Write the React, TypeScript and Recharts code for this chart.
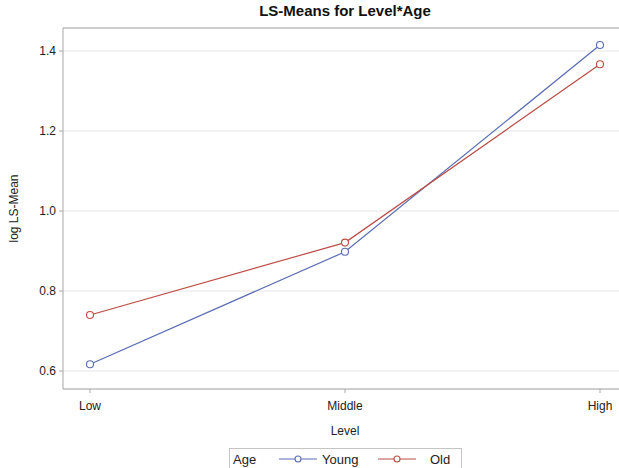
import React from "react";
import { LineChart, Line, XAxis, YAxis, CartesianGrid, ReferenceLine } from "recharts";

const levels = ["Low", "Middle", "High"];
const youngValues = [0.617, 0.898, 1.415];
const oldValues = [0.74, 0.921, 1.367];
const yTicks = [0.6, 0.8, 1.0, 1.2, 1.4];
const seriesNames = ["Young", "Old"];
const legendTitle = "Age";
const chartTitle = "LS-Means for Level*Age";
const xTitle = "Level";
const yTitle = "log LS-Mean";

const data = levels.map((lvl, i) => ({ level: lvl, Young: youngValues[i], Old: oldValues[i] }));

const BLUE = "#5a6db3";
const RED = "#bb4d45";
const AXIS = "#a8a8a8";
const FONT = "'Liberation Sans', Arial, sans-serif";
const Y_MIN = 0.555;
const Y_MAX = 1.4575;

const YLabel = (props: any) => {
  const vb = props.viewBox || { x: 0, y: 0, width: 0, height: 0 };
  const x = vb.x + 14;
  const y = vb.y + vb.height / 2;
  return (
    <text x={x} y={y} transform={`rotate(-90, ${x}, ${y})`} textAnchor="middle" dominantBaseline="central" fontSize={12} fill="#222" fontFamily={FONT}>
      {yTitle}
    </text>
  );
};

const XLabel = (props: any) => {
  const vb = props.viewBox || { x: 0, y: 0, width: 0, height: 0 };
  const x = vb.x + vb.width / 2;
  return (
    <text x={x} y={431} textAnchor="middle" dominantBaseline="central" fontSize={12} fill="#222" fontFamily={FONT}>
      {xTitle}
    </text>
  );
};

const Dot = (color: string) => (props: any) => {
  const { cx, cy } = props;
  if (cx == null || cy == null) return <g />;
  return <circle cx={cx} cy={cy} r={3.5} fill="#fff" stroke={color} strokeWidth={1.1} />;
};

export default function App() {
  return (
    <div style={{ position: "absolute", left: 0, top: 0, width: 619, height: 468, overflow: "hidden", background: "#fff", fontFamily: FONT }}>
      <div style={{ position: "absolute", left: 0, top: 2, width: 690, textAlign: "center", fontSize: 15, fontWeight: "bold", color: "#111" }}>
        {chartTitle}
      </div>
      <LineChart width={630} height={468} data={data} margin={{ top: 28, right: 3, bottom: 29, left: 0 }}>
        <CartesianGrid horizontal={true} vertical={false} stroke="#e6e6e6" />
        <XAxis
          dataKey="level"
          type="category"
          padding={{ left: 27, right: 27 }}
          height={50}
          tickSize={4}
          tickMargin={8}
          axisLine={{ stroke: AXIS }}
          tickLine={{ stroke: AXIS }}
          tick={{ fontSize: 12, fill: "#222", fontFamily: FONT }}
          label={<XLabel />}
        />
        <YAxis
          type="number"
          domain={[Y_MIN, Y_MAX]}
          allowDataOverflow
          ticks={yTicks}
          width={63}
          tickSize={4}
          tickMargin={3}
          tickFormatter={(v: number) => v.toFixed(1)}
          axisLine={{ stroke: AXIS }}
          tickLine={{ stroke: AXIS }}
          tick={{ fontSize: 12, fill: "#222", fontFamily: FONT }}
          label={<YLabel />}
        />
        <ReferenceLine y={Y_MAX} stroke={AXIS} ifOverflow="extendDomain" />
        <Line type="linear" dataKey="Young" name={seriesNames[0]} stroke={BLUE} strokeWidth={1.2} dot={Dot(BLUE)} activeDot={false} isAnimationActive={false} />
        <Line type="linear" dataKey="Old" name={seriesNames[1]} stroke={RED} strokeWidth={1.2} dot={Dot(RED)} activeDot={false} isAnimationActive={false} />
      </LineChart>
      <svg style={{ position: "absolute", left: 229, top: 448 }} width={234} height={22}>
        <rect x={0.5} y={0.5} width={232} height={24} fill="#fff" stroke="#c4c4c4" />
        <text x={4} y={11} dominantBaseline="central" fontSize={13} fill="#222" fontFamily={FONT}>{legendTitle}</text>
        <line x1={50} x2={88} y1={11} y2={11} stroke={BLUE} strokeWidth={1.2} />
        <circle cx={69} cy={11} r={3} fill="#fff" stroke={BLUE} strokeWidth={1.1} />
        <text x={93} y={11} dominantBaseline="central" fontSize={13} fill="#222" fontFamily={FONT}>{seriesNames[0]}</text>
        <line x1={149} x2={187} y1={11} y2={11} stroke={RED} strokeWidth={1.2} />
        <circle cx={168} cy={11} r={3} fill="#fff" stroke={RED} strokeWidth={1.1} />
        <text x={201} y={11} dominantBaseline="central" fontSize={13} fill="#222" fontFamily={FONT}>{seriesNames[1]}</text>
      </svg>
    </div>
  );
}
